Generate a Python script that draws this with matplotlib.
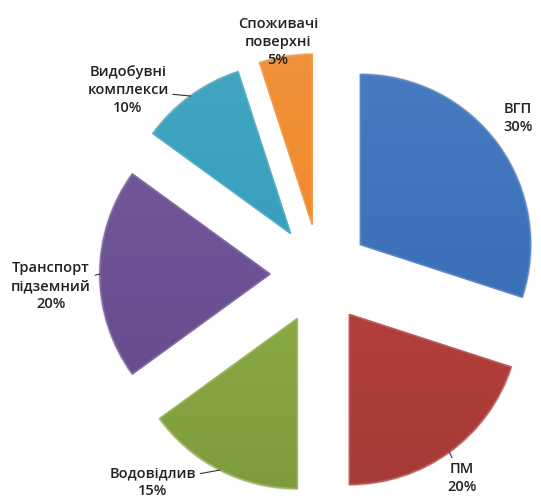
import numpy as np
import matplotlib
matplotlib.use("Agg")
import matplotlib.pyplot as plt
from matplotlib.colors import LinearSegmentedColormap, to_rgb
from matplotlib.patches import Wedge

# data
labels = ["ВГП", "ПМ", "Водовідлив", "Транспорт\nпідземний", "Видобувні\nкомплекси", "Споживачі\nповерхні"]
shares = [30, 20, 15, 20, 10, 5]
colors = ["#3D72BB", "#B33F3B", "#89A942", "#6C5194", "#37A0BD", "#F08A2E"]

# label placement (data units) and whether a leader line is drawn
label_pos = [(1.165, 0.918), (0.835, -1.20), (-0.982, -1.224), (-1.582, -0.071), (-1.129, 1.082), (-0.247, 1.365)]
leader = [False, True, True, True, True, False]

explode = 0.294
px = 170.0
cx_px, cy_px = 320, 274  # pie centre in pixels (from top-left)
W, H = 541, 497


def shade(c, f):
    c = np.array(to_rgb(c))
    if f > 0:
        return tuple(c + (1 - c) * f)
    return tuple(c * (1 + f))


fig = plt.figure(figsize=(W / 100, H / 100), dpi=100)
ax = fig.add_axes([0, 0, 1, 1])

wedges, _ = ax.pie(shares, startangle=90, counterclock=False,
                   explode=[explode] * len(shares), colors=colors,
                   wedgeprops=dict(linewidth=0))

# soft vertical gradient clipped to each slice + light bevel edge
grad = np.linspace(0, 1, 256).reshape(-1, 1)
for w, c in zip(wedges, colors):
    cmap = LinearSegmentedColormap.from_list("g", [shade(c, -0.08), c, shade(c, 0.06)])
    x0, y0 = w.center[0] - 1.05, w.center[1] - 1.05
    im = ax.imshow(grad, extent=(x0, x0 + 2.1, y0, y0 + 2.1), origin="lower",
                   cmap=cmap, aspect="auto", zorder=2, interpolation="bilinear")
    im.set_clip_path(w)
    ax.add_patch(Wedge(w.center, w.r, w.theta1, w.theta2, fill=False,
                       edgecolor=shade(c, 0.15), lw=1.2, zorder=3))
    ax.add_patch(Wedge(w.center, w.r + 0.006, w.theta1, w.theta2, fill=False,
                       edgecolor=(0, 0, 0, 0.15), lw=0.8, zorder=1.9))

font = dict(fontsize=10.5, family=["Open Sans", "DejaVu Sans"], color="#222222",
            fontweight="semibold", linespacing=1.4)
for w, lab, val, pos, has_line in zip(wedges, labels, shares, label_pos, leader):
    mid = np.deg2rad((w.theta1 + w.theta2) / 2)
    arc = (w.center[0] + np.cos(mid), w.center[1] + np.sin(mid))
    text = f"{lab}\n{val}%"
    if has_line:
        ax.annotate(text, xy=arc, xytext=pos, ha="center", va="center", zorder=5,
                    arrowprops=dict(arrowstyle="-", color="#333333", lw=0.8,
                                    shrinkA=1, shrinkB=0), **font)
    else:
        ax.text(pos[0], pos[1], text, ha="center", va="center", zorder=5, **font)

ax.set_xlim(-cx_px / px, (W - cx_px) / px)
ax.set_ylim(-(H - cy_px) / px, cy_px / px)
ax.set_aspect("equal")
ax.axis("off")

fig.savefig("out.png", dpi=100)
